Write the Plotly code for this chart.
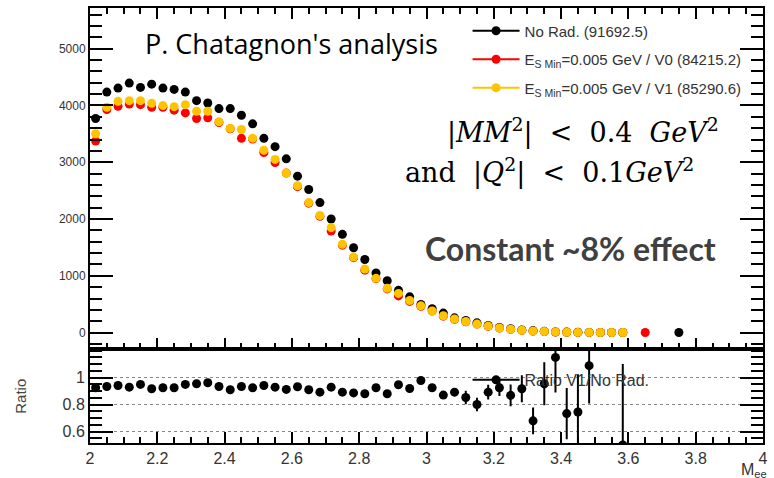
import plotly.graph_objects as go

# ---------------- data ----------------
n_bins = 53
mee = [round(2 + (i + 0.5) / 30, 4) for i in range(n_bins)]

no_rad = [3771, 4236, 4306, 4394, 4318, 4376, 4306, 4283, 4236, 4085,
          4044, 3945, 3945, 3829, 3677, 3421, 3275, 3060, 2755, 2520,
          2290, 2000, 1731, 1495, 1288, 1050, 914, 745, 630, 495,
          420, 344, 260, 215, 172, 125, 90, 70, 48, 35,
          22, 12, 9, 6, 3, 2, 2, 2, None, None,
          None, None, 1]
v0 = [3374, 3928, 3986, 4027, 4015, 3969, 3969, 3918, 3869, 3771,
      3782, 3700, 3590, 3421, 3410, 3171, 2995, 2810, 2570, 2280,
      2050, 1790, 1540, 1320, 1100, 950, 770, 646, 550, 465,
      380, 290, 235, 190, 150, 110, 80, 58, 40, 26,
      18, 10, 6, 4, 3, 2, 1, 1, None, 1,
      None, None, None]
v1 = [3502, 3969, 4073, 4085, 4085, 4038, 3998, 3980, 4015, 3898,
      3898, 3712, 3596, 3578, 3421, 3211, 3050, 2810, 2587, 2290,
      2063, 1848, 1556, 1330, 1120, 956, 781, 690, 565, 472,
      380, 297, 239, 195, 150, 115, 82, 60, 42, 28,
      20, 12, 7, 4, 3, 2, 1, 1, None, None,
      None, None, None]

ratio = [0.924, 0.934, 0.941, 0.929, 0.949, 0.917, 0.924, 0.924, 0.949, 0.954,
         0.961, 0.934, 0.910, 0.934, 0.924, 0.941, 0.929, 0.912, 0.932, 0.910,
         0.892, 0.929, 0.892, 0.886, 0.880, 0.924, 0.880, 0.947, 0.919, 0.978,
         0.924, 0.870, 0.892, 0.852, 0.800, 0.892, 0.924, 0.868, 0.917, 0.679,
         0.954, 1.149, 0.733, 0.745, 1.088, None, None, 0.50]
ratio_err = [0.02] * 30 + [0.025, 0.025, 0.03, 0.05, 0.05, 0.055, 0.06, 0.08,
                           0.10, 0.10, 0.16, 0.26, 0.19, 0.28, 0.28, 0, 0, 0.6]

labels = ["No Rad. (91692.5)",
          "E<sub>S Min</sub>=0.005 GeV / V0 (84215.2)",
          "E<sub>S Min</sub>=0.005 GeV / V1 (85290.6)"]
colors = ["#000000", "#ff0000", "#ffc400"]

# ---------------- figure ----------------
fig = go.Figure()
for vals, name, col, g in zip([no_rad, v0, v1], labels, colors, ["a", "b", "c"]):
    fig.add_trace(go.Scatter(x=mee, y=vals, mode="markers", xaxis="x", yaxis="y",
                             marker=dict(color=col, size=9, line=dict(width=0)),
                             showlegend=False))
    fig.add_trace(go.Scatter(x=[None], y=[None], mode="lines+markers", name=name,
                             legendgroup=g, xaxis="x", yaxis="y",
                             line=dict(color=col, width=2),
                             marker=dict(color=col, size=9)))

fig.add_trace(go.Scatter(x=mee[:len(ratio)], y=ratio, mode="markers", xaxis="x2", yaxis="y2",
                         marker=dict(color="black", size=9),
                         error_y=dict(type="data", array=ratio_err, color="black",
                                      thickness=2, width=0),
                         showlegend=False))
fig.add_trace(go.Scatter(x=[None], y=[None], mode="lines+markers", name="Ratio V1/No Rad.",
                         xaxis="x2", yaxis="y2", legend="legend2",
                         line=dict(color="black", width=2), marker=dict(color="black", size=9)))

tickfont_small = dict(family="Liberation Sans, Arial", size=12, color="#333")
tickfont_big = dict(family="Liberation Sans, Arial", size=16, color="#333")

fig.update_layout(
    width=774, height=478,
    margin=dict(l=90, r=7, t=6, b=35),
    paper_bgcolor="white", plot_bgcolor="white",
    xaxis=dict(domain=[0, 1], range=[2, 4], anchor="y", showticklabels=False,
               showline=True, linecolor="black", linewidth=2, mirror="ticks",
               ticks="inside", ticklen=11, tickwidth=2, tickcolor="black",
               tick0=2, dtick=0.2, showgrid=False, zeroline=False,
               minor=dict(ticks="inside", ticklen=6, tickwidth=2, dtick=0.05,
                          tickcolor="black", showgrid=False)),
    yaxis=dict(domain=[0.215, 1], range=[-297, 5717], anchor="x",
               showline=True, linecolor="black", linewidth=2, mirror="ticks",
               ticks="inside", ticklen=23, tickwidth=2, tickcolor="black",
               tickvals=[0, 1000, 2000, 3000, 4000, 5000], tickfont=tickfont_small,
               showgrid=False, zeroline=False,
               minor=dict(ticks="inside", ticklen=12, tickwidth=2, dtick=200, tick0=0,
                          tickcolor="black", showgrid=False)),
    xaxis2=dict(domain=[0, 1], range=[2, 4], anchor="y2",
                showline=True, linecolor="black", linewidth=2, mirror=True,
                ticks="inside", ticklen=11, tickwidth=2, tickcolor="black",
                tickvals=[2, 2.2, 2.4, 2.6, 2.8, 3, 3.2, 3.4, 3.6, 3.8, 4],
                ticktext=["2", "2.2", "2.4", "2.6", "2.8", "3", "3.2", "3.4", "3.6", "3.8", "4"],
                tickfont=tickfont_big, showgrid=False, zeroline=False,
                minor=dict(ticks="inside", ticklen=6, tickwidth=2, dtick=0.05, tick0=2,
                           tickcolor="black", showgrid=False)),
    yaxis2=dict(domain=[0, 0.215], range=[0.515, 1.208], anchor="x2",
                showline=True, linecolor="black", linewidth=2, mirror="ticks",
                ticks="inside", ticklen=23, tickwidth=2, tickcolor="black",
                tickvals=[0.6, 0.8, 1.0], ticktext=["0.6", "0.8", "1"],
                tickfont=tickfont_big,
                showgrid=True, gridcolor="#888", griddash="dot", gridwidth=1,
                zeroline=False,
                title=dict(text="Ratio", font=dict(family="Liberation Sans, Arial", size=15, color="#444"),
                           standoff=32),
                minor=dict(ticks="inside", ticklen=12, tickwidth=2, dtick=0.05, tick0=0.5,
                           tickcolor="black", showgrid=False)),
    legend=dict(x=0.561, y=0.985, xanchor="left", yanchor="top",
                bgcolor="rgba(0,0,0,0)", tracegroupgap=6, itemwidth=47,
                font=dict(family="Liberation Sans, Arial", size=15, color="#333")),
    legend2=dict(x=0.561, y=0.145, xanchor="left", yanchor="middle",
                 bgcolor="rgba(0,0,0,0)", itemwidth=47,
                 font=dict(family="Liberation Sans, Arial", size=16, color="#333")),
)

fig.add_annotation(xref="paper", yref="paper", x=(143 - 90) / 677, y=1 - (42 - 6) / 437,
                   xanchor="left", yanchor="middle", showarrow=False,
                   text="P. Chatagnon's analysis",
                   font=dict(family="Open Sans", size=27, color="black"))
fig.add_annotation(xref="paper", yref="paper", x=(725 - 90) / 677, y=1 - (130 - 6) / 437,
                   xanchor="right", yanchor="middle", showarrow=False,
                   text="|<i>MM</i><sup>2</sup>|&nbsp;&nbsp;&lt;&nbsp;&nbsp;0.4&nbsp;&nbsp;<i>GeV</i><sup>2</sup>",
                   font=dict(family="DejaVu Serif", size=27, color="black"))
fig.add_annotation(xref="paper", yref="paper", x=(700 - 90) / 677, y=1 - (170 - 6) / 437,
                   xanchor="right", yanchor="middle", showarrow=False,
                   text="and&nbsp;&nbsp;|<i>Q</i><sup>2</sup>|&nbsp;&nbsp;&lt;&nbsp;&nbsp;0.1<i>GeV</i><sup>2</sup>",
                   font=dict(family="DejaVu Serif", size=27, color="black"))
fig.add_annotation(xref="paper", yref="paper", x=(425 - 90) / 677, y=1 - (248 - 6) / 437,
                   xanchor="left", yanchor="middle", showarrow=False,
                   text="<b>Constant ~8% effect</b>",
                   font=dict(family="Lato", size=32, color="#404040"))
fig.add_annotation(xref="paper", yref="paper", x=(743 - 90) / 677, y=(443 - 471) / 437,
                   xanchor="left", yanchor="middle", showarrow=False,
                   text="M<sub>ee</sub>",
                   font=dict(family="Liberation Sans, Arial", size=16, color="#333"))

fig.write_html("out.html")
